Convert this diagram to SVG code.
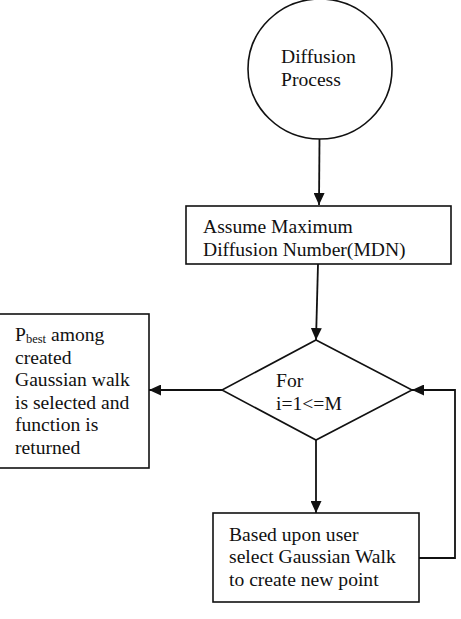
<svg xmlns="http://www.w3.org/2000/svg" width="461" height="619" viewBox="0 0 461 619">
<style>
.shape{fill:#fff;stroke:#111;stroke-width:1.6}
.conn{fill:none;stroke:#111;stroke-width:1.8}
text{font-family:"Liberation Serif","Times New Roman",serif;font-size:19.6px;fill:#111}
.sub{font-size:12.5px}
</style>
<defs>
<marker id="arr" markerUnits="userSpaceOnUse" markerWidth="12" markerHeight="11" refX="12" refY="5.5" orient="auto">
<path d="M0,0 L12,5.5 L0,11 z" fill="#111"/>
</marker>
</defs>
<rect width="461" height="619" fill="#fff"/>
<g id="connectors">
<line class="conn" x1="319.5" y1="139" x2="319" y2="205" marker-end="url(#arr)"/>
<line class="conn" x1="318" y1="264" x2="316" y2="340" marker-end="url(#arr)"/>
<line class="conn" x1="222" y1="390" x2="149" y2="390" marker-end="url(#arr)"/>
<line class="conn" x1="316" y1="440" x2="316" y2="513" marker-end="url(#arr)"/>
<polyline class="conn" points="419,558 455,558 455,390 412,390" marker-end="url(#arr)"/>
</g>
<g id="diffusion">
<ellipse class="shape" cx="320" cy="69" rx="72" ry="70"/>
<text x="281" y="63">Diffusion</text>
<text x="281" y="86">Process</text>
</g>
<g id="assume">
<rect class="shape" x="186" y="206" width="265" height="58"/>
<text x="203" y="233">Assume Maximum</text>
<text x="203" y="256">Diffusion Number(MDN)</text>
</g>
<g id="loop">
<polygon class="shape" points="316,340 412,390 316,440 222,390"/>
<text x="276" y="387">For</text>
<text x="276" y="410">i=1&lt;=M</text>
</g>
<g id="result">
<rect class="shape" x="-1" y="314" width="150" height="154"/>
<text x="15" y="341">P<tspan class="sub" dy="2">best</tspan><tspan dy="-2"> among</tspan></text>
<text x="15" y="364">created</text>
<text x="15" y="386">Gaussian walk</text>
<text x="15" y="409">is selected and</text>
<text x="15" y="431">function is</text>
<text x="15" y="454">returned</text>
</g>
<g id="gaussian">
<rect class="shape" x="213" y="513" width="206" height="89"/>
<text x="229" y="541">Based upon user</text>
<text x="229" y="563">select Gaussian Walk</text>
<text x="229" y="586">to create new point</text>
</g>
</svg>
